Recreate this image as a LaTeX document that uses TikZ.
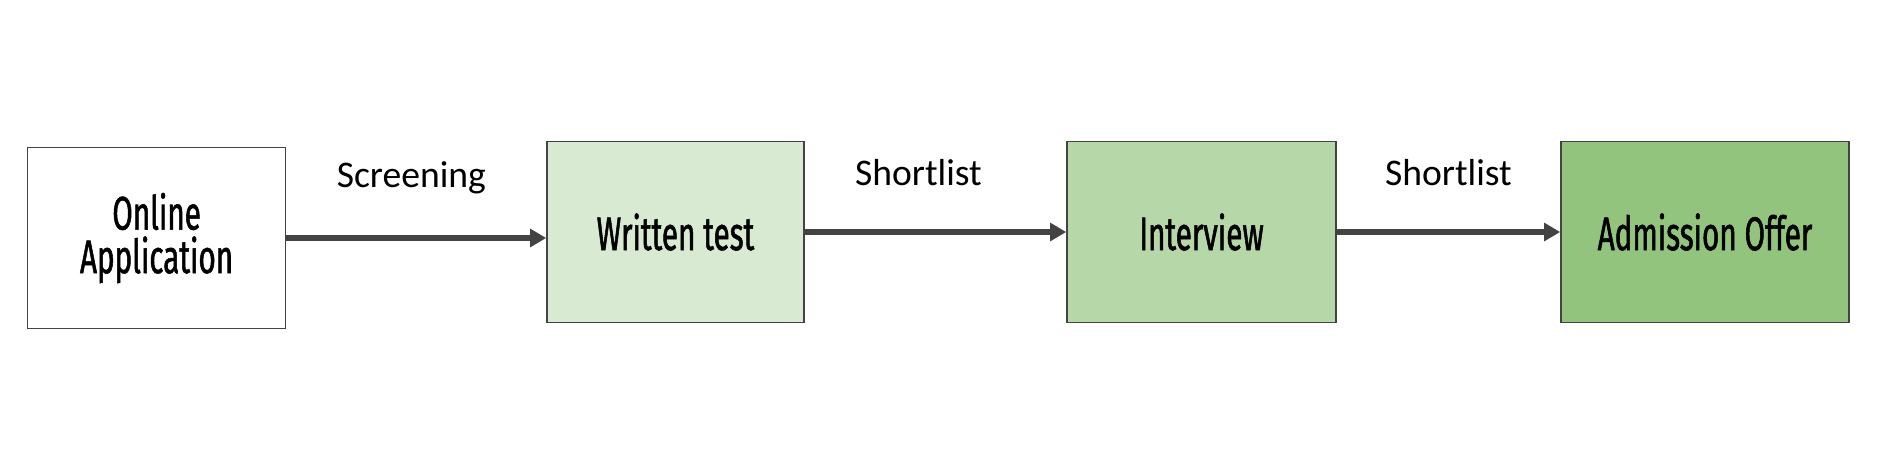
\documentclass[tikz,border=0pt]{standalone}
\usepackage{fontspec}
\usepackage{tikz}
\usetikzlibrary{positioning,arrows.meta}
\usepackage{xcolor}
\setmainfont{Carlito}
\newfontfamily\boxfont[FakeStretch=0.63, FakeBold=1.1]{Fira Sans}
\definecolor{linegray}{HTML}{434343}
\definecolor{greenA}{HTML}{D9EAD3}
\definecolor{greenB}{HTML}{B6D7A8}
\definecolor{greenC}{HTML}{93C47D}

\begin{document}
\begin{tikzpicture}[x=0.1mm,y=-0.1mm]
    \tikzstyle{stage} = [rectangle, draw=linegray, line width=0.45pt, fill=white,
               minimum height=18.1mm, inner sep=0pt, align=center,
               font=\boxfont\fontsize{13.4}{12.4}\selectfont]
    \tikzstyle{line} = [draw=linegray, line width=1.45pt,
               -{Triangle[length=1.6mm,width=1.75mm]}]
    \tikzstyle{tag} = [font=\fontsize{10.7}{12}\selectfont, above=4.1mm, inner sep=0pt]

    \useasboundingbox (0,0) rectangle (1880,455);

    % Define stages
    \node [stage, minimum width=25.8mm] (apply) at (156.6,238) {Online\\Application};
    \node [stage, minimum width=25.7mm, fill=greenA] (test) at (675.5,232) {Written test};
    \node [stage, minimum width=26.9mm, fill=greenB] (interview) at (1201.5,232) {Interview};
    \node [stage, minimum width=28.8mm, fill=greenC] (offer) at (1705,232) {Admission Offer};

    \path [line] (apply.east) -- (apply.east -| test.west)
      node[tag, midway, xshift=-0.5mm] {Screening};
    \path [line] (test.east) -- (interview.west)
      node[tag, midway, xshift=-1.7mm, yshift=0.3mm] {Shortlist};
    \path [line] (interview.east) -- (offer.west)
      node[tag, midway, yshift=0.3mm] {Shortlist};

  \end{tikzpicture}
\end{document}
